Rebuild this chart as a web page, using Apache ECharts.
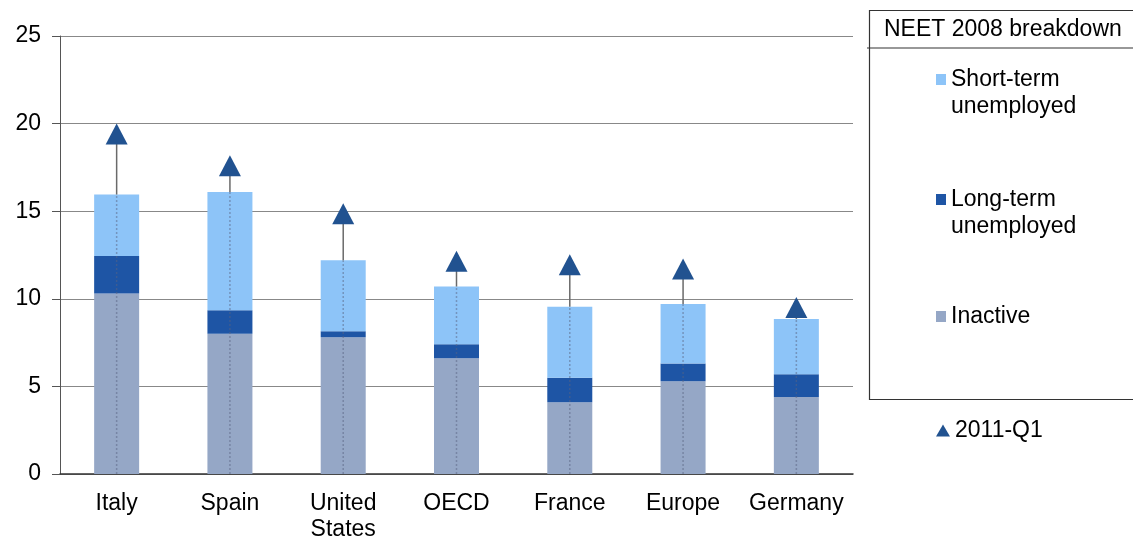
<!DOCTYPE html>
<html>
<head>
<meta charset="utf-8">
<script src="https://cdn.jsdelivr.net/npm/echarts@6/dist/echarts.min.js"></script>
<style>html,body{margin:0;padding:0;background:#fff;}#c{width:1133px;height:544px;}</style>
</head>
<body>
<div id="c"></div>
<script>
const categories = ['Italy', 'Spain', 'United\nStates', 'OECD', 'France', 'Europe', 'Germany'];
const inactive = [10.3, 8.0, 7.8, 6.6, 4.1, 5.3, 4.4];
const longTerm = [2.15, 1.35, 0.35, 0.8, 1.4, 1.0, 1.3];
const shortTerm = [3.5, 6.75, 4.05, 3.3, 4.05, 3.4, 3.15];
const q1_2011 = [19.4, 17.6, 14.85, 12.15, 11.95, 11.7, 9.5];
const yTicks = { min: 0, max: 25, interval: 5 };

const FONT = '"Liberation Sans", Arial, sans-serif';
const FS = 23;
const C_INACT = '#95A7C6', C_LT = '#1E55A5', C_ST = '#8DC4F8', C_TRI = '#215290';

const lineData = categories.map((c, i) => [i, inactive[i] + longTerm[i] + shortTerm[i], q1_2011[i]]);

const chart = echarts.init(document.getElementById('c'), null, { renderer: 'canvas' });

function legendCfg(name, top, icon, twoLine) {
  return {
    orient: 'vertical', left: 936, top: top, padding: 0, data: [{ name: name, icon: icon }],
    itemWidth: icon === 'triangle' ? 14 : 10, itemHeight: icon === 'triangle' ? 12 : 11,
    selectedMode: false,
    formatter: n => twoLine ? ' \n' + n.replace(' ', '\n') : n,
    textStyle: { fontFamily: FONT, fontSize: FS, color: '#000', lineHeight: 27 }
  };
}

chart.setOption({
  animation: false,
  backgroundColor: '#fff',
  grid: { left: 60, right: 280, top: 36, bottom: 70 },
  xAxis: {
    type: 'category', data: categories,
    axisLine: { lineStyle: { color: '#333', width: 1.5 } },
    axisTick: { show: false },
    axisLabel: { interval: 0, color: '#000', fontFamily: FONT, fontSize: FS, lineHeight: 26, margin: 17 }
  },
  yAxis: {
    type: 'value', min: yTicks.min, max: yTicks.max, interval: yTicks.interval,
    axisLine: { show: true, lineStyle: { color: '#555', width: 1 } },
    axisTick: { show: true, length: 8, lineStyle: { color: '#555' } },
    axisLabel: { color: '#000', fontFamily: FONT, fontSize: FS, margin: 19 },
    splitLine: { lineStyle: { color: '#888', width: 1.2 } }
  },
  legend: [
    legendCfg('Short-term unemployed', 39, 'rect', true),
    legendCfg('Long-term unemployed', 159, 'rect', true),
    legendCfg('Inactive', 303, 'rect', false),
    legendCfg('2011-Q1', 417, 'triangle', false)
  ],
  graphic: [
    { type: 'rect', left: 867, top: 8, shape: { width: 300, height: 389 },
      style: { fill: 'none', stroke: '#333', lineWidth: 1.2 }, z: 0 },
    { type: 'line', shape: { x1: 867, y1: 48, x2: 1133, y2: 48 },
      style: { stroke: '#333', lineWidth: 1.2 } },
    { type: 'text', left: 884, top: 18,
      style: { text: 'NEET 2008 breakdown', font: FS + 'px ' + FONT, fill: '#000' } }
  ],
  series: [
    { name: 'Inactive', type: 'bar', stack: 'a', barWidth: 45, data: inactive,
      itemStyle: { color: C_INACT } },
    { name: 'Long-term unemployed', type: 'bar', stack: 'a', barWidth: 45, data: longTerm,
      itemStyle: { color: C_LT } },
    { name: 'Short-term unemployed', type: 'bar', stack: 'a', barWidth: 45, data: shortTerm,
      itemStyle: { color: C_ST } },
    { type: 'custom', z: 5, data: lineData, encode: { x: 0, y: 2 }, silent: true,
      renderItem: function (params, api) {
        const i = api.value(0);
        const p0 = api.coord([i, 0]);
        const p1 = api.coord([i, api.value(1)]);
        const p2 = api.coord([i, api.value(2)]);
        return { type: 'group', children: [
          { type: 'line', shape: { x1: p0[0], y1: p0[1], x2: p1[0], y2: p1[1] },
            style: { stroke: 'rgba(90,100,130,0.5)', lineWidth: 1.5, lineDash: [2, 2] } },
          { type: 'line', shape: { x1: p1[0], y1: p1[1], x2: p2[0], y2: p2[1] },
            style: { stroke: '#6a6a6a', lineWidth: 1.5 } }
        ] };
      }
    },
    { name: '2011-Q1', type: 'scatter', z: 6, data: q1_2011, symbol: 'triangle',
      symbolSize: [22, 21], itemStyle: { color: C_TRI, opacity: 1 } }
  ]
});
</script>
</body>
</html>
